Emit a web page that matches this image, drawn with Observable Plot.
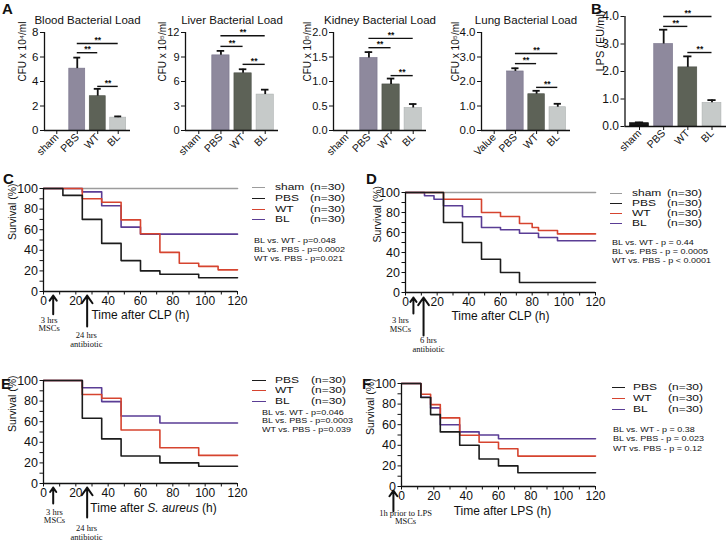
<!DOCTYPE html>
<html><head><meta charset="utf-8">
<script src="https://cdn.jsdelivr.net/npm/d3@7"></script>
<script src="https://cdn.jsdelivr.net/npm/@observablehq/plot@0.6"></script>
<style>
html,body{margin:0;padding:0;background:#fff;}
#fig{position:relative;width:726px;height:542px;overflow:hidden;font-family:"Liberation Sans",Arial,sans-serif;color:#111;}
#fig svg{position:absolute;left:0;top:0;}
.lbl{position:absolute;font-weight:bold;font-size:15px;line-height:13px;}
.leg{position:absolute;font-size:12px;line-height:10px;height:10px;white-space:nowrap;transform:scaleY(0.78);transform-origin:50% 50%;}
.legline{position:absolute;height:0;border-top:1.6px solid #000;}
.pv{position:absolute;font-size:9px;line-height:8px;height:8px;white-space:nowrap;transform:scaleY(0.8);transform-origin:50% 50%;}
</style></head><body><div id="fig"></div>
<script>
// ---------- data: bar panels ----------
const groups = ["sham", "PBS", "WT", "BL"];
const lungGroups = ["Value", "PBS", "WT", "BL"];
const bloodMean = [0, 5.05, 2.8, 1.05];
const bloodErr  = [0, 0.9, 0.6, 0.1];
const liverMean = [0, 9.2, 7.0, 4.4];
const liverErr  = [0, 0.55, 0.5, 0.6];
const kidneyMean = [0, 1.48, 0.94, 0.46];
const kidneyErr  = [0, 0.12, 0.12, 0.08];
const lungMean = [0, 2.41, 1.48, 0.95];
const lungErr  = [0, 0.13, 0.14, 0.14];
const lpsMean = [0.12, 3.0, 2.15, 0.86];
const lpsErr  = [0.03, 0.52, 0.4, 0.1];
// significance brackets: [from, to, height]
const bloodSig  = [["PBS","BL",7.1],["PBS","WT",6.35],["WT","BL",3.6]];
const liverSig  = [["PBS","BL",11.6],["PBS","WT",10.3],["WT","BL",8.1]];
const kidneySig = [["PBS","BL",1.88],["PBS","WT",1.69],["WT","BL",1.12]];
const lungSig   = [["PBS","BL",3.14],["PBS","WT",2.73],["WT","BL",1.76]];
const lpsSig    = [["PBS","BL",4.0],["PBS","WT",3.64],["WT","BL",2.69]];

// ---------- data: survival panels (time h, survival %) ----------
const shamT = [0, 120], shamS = [100, 100];
const cPBS_T = [0,12,24,36,48,60,72,96,120], cPBS_S = [100,93.3,70,46.7,30,20,16.7,13.3,13.3];
const cWT_T  = [0,24,36,48,60,72,84,96,108,120], cWT_S = [100,90,86.7,69.5,56,38,27.4,24.4,21,21];
const cBL_T  = [0,24,36,48,60,120], cBL_S = [100,96.7,83.3,62.5,55.7,55.7];
const dPBS_T = [0,24,36,48,60,72,120], dPBS_S = [100,70,50,33.3,20,10,10];
const dWT_T  = [0,24,48,60,72,80,84,96,120], dWT_S = [100,93.3,80,76,69,65,62,58.6,58.6];
const dBL_T  = [0,12,18,24,36,48,60,72,84,96,120], dBL_S = [100,96.7,93.3,86.7,75.7,65,62.7,59.3,55,51.7,51.7];
const ePBS_T = [0,24,36,48,72,96,120], ePBS_S = [100,63.3,43.3,26.7,20,16.7,16.7];
const eWT_T  = [0,24,36,48,72,96,120], eWT_S = [100,86.4,82.8,51.9,34.7,27.3,27.3];
const eBL_T  = [0,24,36,48,72,120], eBL_S = [100,93,79.5,65.6,58.8,58.8];
const fPBS_T = [0,12,18,24,36,48,60,72,120], fPBS_S = [100,86.4,69.8,53,40,26.7,20,13.3,13.3];
const fWT_T  = [0,12,18,24,36,48,60,72,120], fWT_S = [100,89.6,79.5,66.6,49.7,43,36.7,29.5,29.5];
const fBL_T  = [0,12,18,24,36,48,60,120], fBL_S = [100,86.7,76.3,60,53,50,46.4,46.4];

const legC = ["sham","PBS","WT","BL"];
const legE = ["PBS","WT","BL"];
const pC = ["BL vs. WT - p=0.048","BL vs. PBS - p=0.0002","WT vs. PBS - p=0.021"];
const pD = ["BL vs. WT - p = 0.44","BL vs. PBS - p = 0.0005","WT vs. PBS - p < 0.0001"];
const pE = ["BL vs. WT - p=0.046","BL vs. PBS - p=0.0003","WT vs. PBS - p=0.039"];
const pF = ["BL vs. WT - p = 0.38","BL vs. PBS - p = 0.023","WT vs. PBS - p = 0.12"];

// ---------- styles ----------
const W = 726, H = 542;
const barColor = {sham: "#151515", Value: "#151515", PBS: "#8e899d", WT: "#5d6257", BL: "#c6cac9"};
const barStroke = {sham: "#000", Value: "#000", PBS: "#77728a", WT: "#4a4e45", BL: "#aeb2b1"};
const lineColor = {sham: "#9c9c9c", PBS: "#1c1c1c", WT: "#d6442f", BL: "#5a3d95"};
const baseStyle = {background: "none", overflow: "visible", fontFamily: "'Liberation Sans', Arial, sans-serif", fontSize: "11px", color: "#111"};
const box = (x0, x1, y0, y1) => ({width: W, height: H, marginLeft: x0, marginRight: W - x1, marginTop: y0, marginBottom: H - y1});
const fig = document.getElementById("fig");
const dropEmptyText = svg => svg.querySelectorAll("text").forEach(t => { if (t.textContent === "") t.remove(); });

function barPanel(o) {
  const data = o.cats.map((c, i) => ({i, c, v: o.mean[i], e: o.err[i]}));
  const bars = data.filter(d => d.v > 0);
  const sig = o.sig.map(([a, b, y]) => ({a: o.cats.indexOf(a), b: o.cats.indexOf(b), y}));
  const xd = [-0.6, 3.6];
  const svg = Plot.plot({
    ...box(o.x0, o.x1, o.yTop, o.yBottom),
    style: baseStyle,
    x: {domain: xd, axis: null},
    y: {domain: [0, o.yMax], axis: null},
    color: {type: "identity"},
    marks: [
      Plot.rect(bars, {x1: d => d.i - 0.39, x2: d => d.i + 0.39, y1: 0, y2: "v", fill: d => barColor[d.c], stroke: d => barStroke[d.c], strokeWidth: 0.6}),
      Plot.ruleX(bars, {x: "i", y1: "v", y2: d => d.v + d.e, strokeWidth: 1.8, stroke: "#111"}),
      Plot.ruleY(bars, {y: d => d.v + d.e, x1: d => d.i - 0.17, x2: d => d.i + 0.17, strokeWidth: 1.8, stroke: "#111"}),
      Plot.ruleY(sig, {y: "y", x1: "a", x2: "b", strokeWidth: 1.4, stroke: "#111"}),
      Plot.text(sig, {x: d => (d.a + d.b) / 2, y: "y", text: () => "**", dy: -3.5, fontSize: 8.5, fontWeight: "bold"}),
      Plot.ruleY([0], {stroke: "#111", strokeWidth: 1.3}),
      Plot.ruleX([xd[0]], {stroke: "#111", strokeWidth: 1.3}),
      Plot.axisY({ticks: o.ticks, tickFormat: o.fmt, tickSize: 4, tickPadding: 2, fontSize: o.tickFont || 11.5, label: null}),
      Plot.axisX({ticks: [0, 1, 2, 3], tickFormat: i => o.cats[i], tickRotate: -45, tickSize: 4, tickPadding: 1, fontSize: 10.5, label: null}),
      Plot.text([o.ylabel], {text: d => d, frameAnchor: "left", rotate: -90, dx: -o.labOff, fontSize: o.labFont || 10}),
      o.title ? Plot.text([o.title], {text: d => d, frameAnchor: "top", dy: -17, fontSize: 11.5}) : null
    ]
  });
  fig.appendChild(svg);
}

const pts = (T, S) => T.map((t, k) => ({t, s: S[k]}));
const tens = (a, b) => d3.range(a, b + 1, 10);

function survPanel(o) {
  const lines = o.series.map(([name, T, S]) =>
    Plot.line(pts(T, S), {x: "t", y: "s", curve: "step-after", stroke: lineColor[name], strokeWidth: 1.6}));
  const svg = Plot.plot({
    ...box(o.x0, o.x1, o.yTop, o.yBottom),
    style: baseStyle,
    x: {domain: [0, 120], axis: null},
    y: {domain: [0, 100], axis: null},
    marks: [
      ...lines,
      Plot.ruleY([0], {stroke: "#111", strokeWidth: 1.3}),
      Plot.ruleX([0], {stroke: "#111", strokeWidth: 1.3}),
      Plot.axisY({ticks: tens(0, 100), tickFormat: d => d % 20 ? "" : d, tickSize: 3.5, tickPadding: 2, fontSize: 12.5, label: null}),
      Plot.axisX({ticks: tens(0, 120), tickFormat: d => d % 20 ? "" : d, tickSize: 3.5, tickPadding: 1.5, fontSize: 12, label: null}),
      Plot.arrow(o.arrows, {x1: "t", x2: "t", y1: "from", y2: "to", strokeWidth: 2, headLength: 7, headAngle: 70, stroke: "#111"}),
      Plot.text(o.notes, {x: "t", y: "y", text: "text", lineAnchor: "top", fontFamily: "'Liberation Serif', serif", fontSize: 8.5, lineHeight: 1.05}),
      Plot.text([o.xlabel], {text: d => d, frameAnchor: "bottom", dy: o.xdy, dx: o.xdx || 0, fontSize: 12}),
      Plot.text(["Survival (%)"], {text: d => d, frameAnchor: "left", rotate: -90, dx: -o.yoff, fontSize: 10.5})
    ]
  });
  dropEmptyText(svg);
  if (o.italic) {
    svg.querySelectorAll("text").forEach(t => {
      if (t.textContent === o.xlabel) t.innerHTML = o.italic;
    });
  }
  fig.appendChild(svg);
}

// ---------- build panels ----------
barPanel({cats: groups, mean: bloodMean, err: bloodErr, sig: bloodSig, yMax: 8, ticks: [0,2,4,6,8], x0: 44, x1: 130, yTop: 32, yBottom: 130, ylabel: "CFU x 10⁴/ml", labOff: 22, title: "Blood Bacterial Load"});
barPanel({cats: groups, mean: liverMean, err: liverErr, sig: liverSig, yMax: 12, ticks: [0,3,6,9,12], x0: 185, x1: 278, yTop: 32, yBottom: 130, ylabel: "CFU x 10⁵/ml", labOff: 23, tickFont: 11, title: "Liver Bacterial Load"});
barPanel({cats: groups, mean: kidneyMean, err: kidneyErr, sig: kidneySig, yMax: 2, ticks: [0,0.5,1,1.5,2], fmt: d3.format(".1f"), x0: 333, x1: 426, yTop: 32, yBottom: 130, ylabel: "CFU x 10⁵/ml", labOff: 26, tickFont: 11, title: "Kidney Bacterial Load"});
barPanel({cats: lungGroups, mean: lungMean, err: lungErr, sig: lungSig, yMax: 4, ticks: [0,1,2,3,4], x0: 481, x1: 570, yTop: 32, yBottom: 130, ylabel: "CFU x 10⁵/ml", labOff: 26, title: "Lung Bacterial Load"});
barPanel({cats: groups, mean: lpsMean, err: lpsErr, sig: lpsSig, yMax: 4, ticks: [0,1,2,3,4], x0: 624.5, x1: 726, yTop: 16, yBottom: 126, ylabel: "LPS (EU/ml)", labOff: 25, labFont: 11, tickFont: 12, title: null});

survPanel({x0: 43, x1: 237, yTop: 188, yBottom: 291,
  series: [["sham", shamT, shamS], ["BL", cBL_T, cBL_S], ["WT", cWT_T, cWT_S], ["PBS", cPBS_T, cPBS_S]],
  arrows: [{t: 6, from: -22, to: -4}, {t: 27, from: -34, to: -4}],
  notes: [{t: 3.5, y: -24, text: "3 hrs\nMSCs"}, {t: 26.5, y: -39, text: "24 hrs\nantibiotic"}],
  xlabel: "Time after CLP (h)", xdy: 27.5, yoff: 31});
survPanel({x0: 405, x1: 595, yTop: 192, yBottom: 292,
  series: [["sham", shamT, shamS], ["BL", dBL_T, dBL_S], ["WT", dWT_T, dWT_S], ["PBS", dPBS_T, dPBS_S]],
  arrows: [{t: 5, from: -21, to: -5}, {t: 11.4, from: -43, to: -5}],
  notes: [{t: -3.2, y: -24, text: "3 hrs\nMSCs"}, {t: 14.5, y: -44, text: "6 hrs\nantibiotic"}],
  xlabel: "Time after CLP (h)", xdy: 27.5, yoff: 28});
survPanel({x0: 43, x1: 237, yTop: 380, yBottom: 483,
  series: [["BL", eBL_T, eBL_S], ["WT", eWT_T, eWT_S], ["PBS", ePBS_T, ePBS_S]],
  arrows: [{t: 6, from: -19.5, to: -4}, {t: 27, from: -33, to: -4}],
  notes: [{t: 6.8, y: -24, text: "3 hrs\nMSCs"}, {t: 26.6, y: -40, text: "24 hrs\nantibiotic"}],
  xlabel: "Time after S. aureus (h)", italic: "Time after <tspan font-style='italic'>S. aureus</tspan> (h)", xdy: 28, xdx: 13, yoff: 31});
survPanel({x0: 401, x1: 595, yTop: 383, yBottom: 486,
  series: [["BL", fBL_T, fBL_S], ["WT", fWT_T, fWT_S], ["PBS", fPBS_T, fPBS_S]],
  arrows: [{t: -5, from: -24, to: -4}],
  notes: [{t: 2.5, y: -22, text: "1h prior to LPS\nMSCs"}],
  xlabel: "Time after LPS (h)", xdy: 28, xdx: 4, yoff: 31});

// ---------- HTML: panel letters, legends, p values ----------
function add(cls, text, css) {
  const d = document.createElement("div");
  d.className = cls; d.textContent = text;
  Object.assign(d.style, css);
  fig.appendChild(d);
  return d;
}
[["A", 2, 2], ["B", 591, 2], ["C", 3, 172], ["D", 366, 172], ["E", 1, 377], ["F", 362, 377]]
  .forEach(([t, x, y]) => add("lbl", t, {left: x + "px", top: y + "px"}));

function legend(names, lineX0, lineX1, nameX, rightX, rows) {
  names.forEach((n, k) => {
    const y = rows[k];
    const l = add("legline", "", {left: lineX0 + "px", width: (lineX1 - lineX0) + "px", top: y + "px"});
    l.style.borderTopColor = lineColor[n];
    add("leg", n, {left: nameX + "px", top: (y - 5) + "px"});
    add("leg", "(n=30)", {left: (rightX - 35) + "px", top: (y - 5) + "px", width: "35px", textAlign: "right"});
  });
}
function pvals(lines, x, rows) {
  lines.forEach((t, k) => add("pv", t, {left: x + "px", top: (rows[k] - 4) + "px"}));
}
legend(legC, 252, 265, 275, 345, [187, 198, 209, 219]);
legend(legC, 610, 622, 632, 702, [193, 203, 213, 223]);
legend(legE, 252, 266, 275, 346, [380, 390, 401]);
legend(legE, 612, 625, 633, 703, [387, 398, 409]);
pvals(pC, 254, [241, 250, 259]);
pvals(pD, 612, [243, 252, 261]);
pvals(pE, 262, [413, 421, 430]);
pvals(pF, 613, [430, 439, 449]);
</script></body></html>
